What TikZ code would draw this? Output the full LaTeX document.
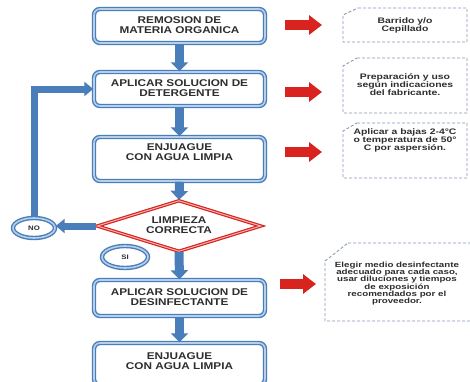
\documentclass[tikz,border=0pt]{standalone}
\usepackage{fontspec}
\newfontfamily\mainf[FakeStretch=1.2]{Liberation Sans}
\newfontfamily\sidef[FakeStretch=1.3]{Liberation Sans}
\usetikzlibrary{arrows.meta,shapes.geometric}
\definecolor{bblue}{HTML}{4A7EBB}
\definecolor{lblue}{HTML}{B8CFEA}
\definecolor{txtc}{HTML}{2E2E2E}
\definecolor{rred}{HTML}{D8231E}
\definecolor{dashc}{HTML}{8A9BB4}
\definecolor{pinkc}{HTML}{F6B4B4}
\begin{document}
\begin{tikzpicture}[x=1pt,y=-1pt,
  mainbox/.style={draw=bblue, line width=1.4pt, double=lblue, double distance=1.6pt,
    rounded corners=6pt, fill=white, minimum width=171pt, inner sep=0pt},
  ovalbox/.style={ellipse, draw=bblue, line width=1.4pt, double=lblue, double distance=1.6pt,
    fill=white, inner sep=0pt},
  decbox/.style={diamond, draw=rred, line width=1.2pt, double=pinkc, double distance=1pt,
    fill=white, inner sep=0pt, minimum width=164pt, minimum height=51pt},
  maintxt/.style={font=\mainf\bfseries\fontsize{9.8}{10.2}\selectfont, text=txtc, align=center, inner sep=0pt},
  sidetxt/.style={font=\sidef\bfseries\fontsize{8}{8}\selectfont, text=txtc, align=center, inner sep=0pt},
  smalltxt/.style={font=\mainf\bfseries\fontsize{6.5}{7}\selectfont, text=txtc, inner sep=0pt},
  bluearr/.style={draw=bblue, line width=9pt, -{Triangle[width=17pt,length=9pt]}},
  bluearrthin/.style={draw=bblue, line width=7pt, line join=miter, -{Triangle[width=14pt,length=9pt]}},
  redarr/.style={draw=rred, line width=10pt, -{Triangle[width=19pt,length=13pt]}},
  dashbox/.style={draw=dashc, line width=0.9pt, dash pattern=on 3pt off 2pt}
]
\useasboundingbox (0,0) rectangle (470,381);
\fill[white] (0,0) rectangle (470,381);

% main boxes
\node[mainbox, minimum height=34pt] (b1) at (179.5,26) {};
\node[mainbox, minimum height=34pt] (b2) at (179.5,89) {};
\node[mainbox, minimum height=44pt] (b3) at (179.5,159) {};
\node[decbox] (dia) at (179,226) {};
\node[mainbox, minimum height=36pt] (b4) at (179.5,298) {};
\node[mainbox, minimum height=42pt] (b5) at (179.5,364) {};
\node[ovalbox, minimum width=42pt, minimum height=20pt] (no) at (34,228) {};
\node[ovalbox, minimum width=46pt, minimum height=22pt] (si) at (125,257) {};

% texts
\node[maintxt] (t1) at (179.5,25) {REMOSION DE\\MATERIA ORGANICA};
\node[maintxt] (t2) at (179.5,88) {APLICAR SOLUCION DE\\DETERGENTE};
\node[maintxt] (t3) at (179.5,152) {ENJUAGUE\\CON AGUA LIMPIA};
\node[maintxt] (td) at (179,225) {LIMPIEZA\\CORRECTA};
\node[maintxt] (t4) at (179.5,297) {APLICAR SOLUCION DE\\DESINFECTANTE};
\node[maintxt] (t5) at (179.5,361) {ENJUAGUE\\CON AGUA LIMPIA};
\node[smalltxt] (tno) at (no) {NO};
\node[smalltxt] (tsi) at (si) {SI};

% connectors
\draw[bluearr] (b1.south) -- (b2.north);
\draw[bluearr] (b2.south) -- (b3.north);
\draw[bluearr] (b3.south) -- (dia.north);
\draw[bluearr] (dia.south) -- (b4.north);
\draw[bluearr] (b4.south) -- (b5.north);
\draw[bluearrthin] (dia.west) -- (dia.west -| no.east);
\draw[bluearrthin] (no.north) |- (b2.west);

% side notes
\draw[dashbox] (358,8) -- (467,8) -- (467,42) -- (343,42) -- (343,15) -- cycle;
\draw[dashbox] (357,58) -- (467,58) -- (467,113) -- (343,113) -- (343,66) -- cycle;
\draw[dashbox] (357,123) -- (467,123) -- (467,178) -- (343,178) -- (343,131) -- cycle;
\draw[dashbox] (348,243) -- (475,243) -- (475,321) -- (325,321) -- (325,261) -- cycle;
\node[sidetxt] (na) at (405,25) {Barrido y/o\\Cepillado};
\node[sidetxt] (nb) at (405,85) {Preparación y uso\\según indicaciones\\del fabricante.};
\node[sidetxt] (nc) at (405,140.5) {Aplicar a bajas 2-4°C\\o temperatura de 50°\\C por aspersión.};
\node[sidetxt, font=\sidef\bfseries\fontsize{7.5}{7.3}\selectfont] (nd) at (397,283.5)
  {Elegir medio desinfectante\\adecuado para cada caso,\\usar diluciones y tiempos\\de exposición\\recomendados por el\\proveedor.};

% red arrows
\coordinate (r1a) at (285,25);  \coordinate (r1b) at (322,25);
\coordinate (r2a) at (285,92);  \coordinate (r2b) at (322,92);
\coordinate (r3a) at (285,152); \coordinate (r3b) at (322,152);
\coordinate (r4a) at (280,284); \coordinate (r4b) at (316,284);
\draw[redarr] (r1a) -- (r1b);
\draw[redarr] (r2a) -- (r2b);
\draw[redarr] (r3a) -- (r3b);
\draw[redarr] (r4a) -- (r4b);
\end{tikzpicture}
\end{document}
